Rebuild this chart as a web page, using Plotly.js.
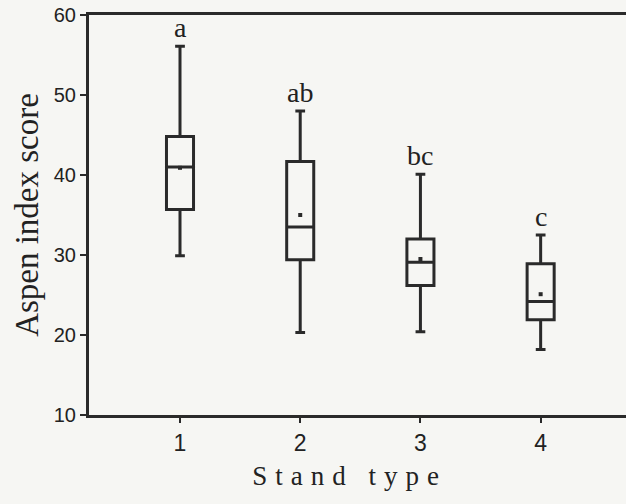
<!DOCTYPE html>
<html><head><meta charset="utf-8">
<script src="https://cdn.plot.ly/plotly-3.0.1.min.js"></script>
<style>html,body{margin:0;padding:0;background:#f6f6f3}</style>
</head><body><div id="chart" style="width:626px;height:504px"></div>
<script>
const standTypes = [1, 2, 3, 4];
const lowerWhisker = [29.9, 20.3, 20.4, 18.2];
const q1 = [35.7, 29.4, 26.2, 21.9];
const median = [41.0, 33.5, 29.1, 24.2];
const q3 = [44.8, 41.7, 32.0, 28.9];
const upperWhisker = [56.1, 48.0, 40.1, 32.5];
const means = [40.9, 35.0, 29.5, 25.1];
const groupLetters = ['a', 'ab', 'bc', 'c'];
const yTicks = [10, 20, 30, 40, 50, 60];

const ink = '#2a2a2a';

const boxTrace = {
  type: 'box',
  x: standTypes,
  q1: q1, median: median, q3: q3,
  lowerfence: lowerWhisker, upperfence: upperWhisker,
  boxpoints: false,
  width: 0.225,
  whiskerwidth: 0.36,
  line: {color: ink, width: 3},
  fillcolor: 'rgba(0,0,0,0)',
  showlegend: false,
  hoverinfo: 'skip'
};
const meanTrace = {
  type: 'scatter', mode: 'markers',
  x: standTypes, y: means,
  marker: {symbol: 'square', size: 4, color: ink},
  showlegend: false, hoverinfo: 'skip'
};

const annotations = groupLetters.map((t, i) => ({
  x: standTypes[i], y: upperWhisker[i], xref: 'x', yref: 'y',
  text: t, showarrow: false, yanchor: 'bottom', yshift: 1,
  font: {family: 'Liberation Serif, Times New Roman, serif', size: 28, color: '#222'}
}));

const layout = {
  width: 626, height: 504,
  margin: {l: 89, r: 0, t: 15, b: 89},
  paper_bgcolor: '#f6f6f3', plot_bgcolor: '#f6f6f3',
  showlegend: false,
  xaxis: {
    range: [0.243, 4.71], tickvals: standTypes, ticktext: standTypes.map(String),
    ticks: 'outside', ticklen: 5, tickwidth: 2, tickcolor: ink,
    showline: true, linewidth: 3, linecolor: ink, mirror: true,
    showgrid: false, zeroline: false,
    tickfont: {family: 'Liberation Sans, Arial, sans-serif', size: 23, color: '#222'},
    title: {text: 'Stand type', standoff: 12,
      font: {family: 'Liberation Serif, Times New Roman, serif', size: 27, color: '#222'}}
  },
  yaxis: {
    range: [10, 60], tickvals: yTicks, ticktext: yTicks.map(String),
    ticks: 'outside', ticklen: 6, tickwidth: 2, tickcolor: ink,
    showline: true, linewidth: 3, linecolor: ink, mirror: false,
    showgrid: false, zeroline: false,
    tickfont: {family: 'Liberation Sans, Arial, sans-serif', size: 20, color: '#222'},
    title: {text: 'Aspen index score', standoff: 6,
      font: {family: 'Liberation Serif, Times New Roman, serif', size: 33, color: '#222'}}
  },
  annotations: annotations
};

Plotly.newPlot('chart', [boxTrace, meanTrace], layout, {staticPlot: true, displayModeBar: false}).then(() => {
  const xt = document.querySelector('.xtitle');
  if (xt) {
    xt.style.letterSpacing = '8px';
    const x0 = parseFloat(xt.getAttribute('x'));
    if (!isNaN(x0)) xt.setAttribute('x', x0 - 8);
  }
});
</script></body></html>
